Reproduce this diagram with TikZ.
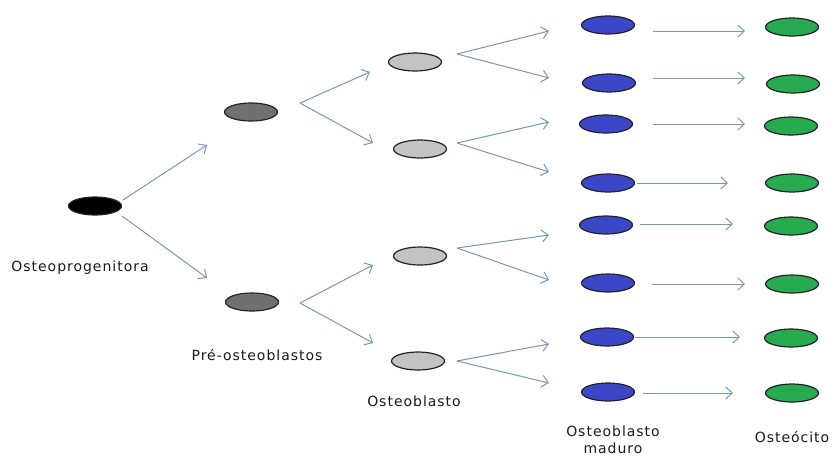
\documentclass[tikz,border=0pt]{standalone}
\usepackage{fontspec}
\setmainfont{DejaVu Sans}[LetterSpace=7]
\usetikzlibrary{arrows.meta,shapes.geometric,calc}
\definecolor{arrcol}{RGB}{120,150,182}
\definecolor{cellblack}{RGB}{0,0,0}
\definecolor{celldark}{RGB}{112,112,112}
\definecolor{celllight}{RGB}{195,195,195}
\definecolor{cellblue}{RGB}{60,70,200}
\definecolor{cellgreen}{RGB}{40,170,80}
\definecolor{cellline}{RGB}{35,35,35}
\tikzset{
  cell/.style={ellipse, draw=cellline, line width=1.2pt, minimum width=53pt, minimum height=18pt, inner sep=0pt},
  arr/.style={draw=arrcol, line width=1pt, -{Straight Barb[length=6.5pt,width=12pt]}},
  lbl/.style={font=\fontsize{14}{17}\selectfont, text=black!90, inner sep=0pt, anchor=base}
}
\begin{document}
\begin{tikzpicture}[x=1pt,y=-1pt]
\useasboundingbox (0,0) rectangle (835,456);
% cells
\node[cell, fill=cellblack] (op) at (95,206) {};
\node[cell, fill=celldark] (p1) at (251,112) {};
\node[cell, fill=celldark] (p2) at (252,302) {};
\node[cell, fill=celllight] (o1) at (415,62) {};
\node[cell, fill=celllight] (o2) at (420,149) {};
\node[cell, fill=celllight] (o3) at (420,256) {};
\node[cell, fill=celllight] (o4) at (418,361) {};
\foreach \i/\x/\y in {1/608/25,2/609/83,3/606/124,4/608/183,5/606/225,6/608/283,7/607/337,8/608/392}
  \node[cell, fill=cellblue] (b\i) at (\x,\y) {};
\foreach \i/\x/\y in {1/792/27,2/793/84,3/791/126,4/792/183,5/791/226,6/792/284,7/791/338,8/792/393}
  \node[cell, fill=cellgreen] (g\i) at (\x,\y) {};
% fork points
\coordinate (fp1) at ($(p1)+(49,-9)$);
\coordinate (fp2) at ($(p2)+(48,1)$);
\coordinate (fo1) at ($(o1)+(42,-8)$);
\coordinate (fo2) at ($(o2)+(37,-6)$);
\coordinate (fo3) at ($(o3)+(37,-8)$);
\coordinate (fo4) at ($(o4)+(39,0)$);
% arrows
\draw[arr] ($(op)+(28,-6)$) -- ($(p1)+(-44,33)$);
\draw[arr] ($(op)+(27,10)$) -- ($(p2)+(-45,-24)$);
\draw[arr] (fp1) -- ($(o1)+(-45,10)$);
\draw[arr] (fp1) -- ($(o2)+(-47,-6)$);
\draw[arr] (fp2) -- ($(o3)+(-47,9)$);
\draw[arr] (fp2) -- ($(o4)+(-45,-18)$);
\draw[arr] (fo1) -- ($(b1)+(-59,6)$);
\draw[arr] (fo1) -- ($(b2)+(-60,-5)$);
\draw[arr] (fo2) -- ($(b3)+(-57,-2)$);
\draw[arr] (fo2) -- ($(b4)+(-59,-11)$);
\draw[arr] (fo3) -- ($(b5)+(-57,10)$);
\draw[arr] (fo3) -- ($(b6)+(-59,-3)$);
\draw[arr] (fo4) -- ($(b7)+(-58,7)$);
\draw[arr] (fo4) -- ($(b8)+(-59,-9)$);
\draw[arr] ($(b1)+(45,6)$) -- ($(g1)+(-47,4)$);
\draw[arr] ($(b2)+(44,-5)$) -- ($(g2)+(-48,-6)$);
\draw[arr] ($(b3)+(47,0)$) -- ($(g3)+(-46,-2)$);
\draw[arr] ($(b4)+(29,0)$) -- ($(g4)+(-64,0)$);
\draw[arr] ($(b5)+(34,-1)$) -- ($(g5)+(-58,-2)$);
\draw[arr] ($(b6)+(44,1)$) -- ($(g6)+(-47,0)$);
\draw[arr] ($(b7)+(28,0)$) -- ($(g7)+(-51,-1)$);
\draw[arr] ($(b8)+(35,1)$) -- ($(g8)+(-59,0)$);
% labels
\node[lbl] (lop) at (80,271) {Osteoprogenitora};
\node[lbl] (lpre) at (257,360) {Pré-osteoblastos};
\node[lbl] (lob) at (414,406) {Osteoblasto};
\node[lbl, anchor=north, align=center] (lmat) at (613,426) {Osteoblasto\\maduro};
\node[lbl] (loc) at (792,442) {Osteócito};
\end{tikzpicture}
\end{document}
